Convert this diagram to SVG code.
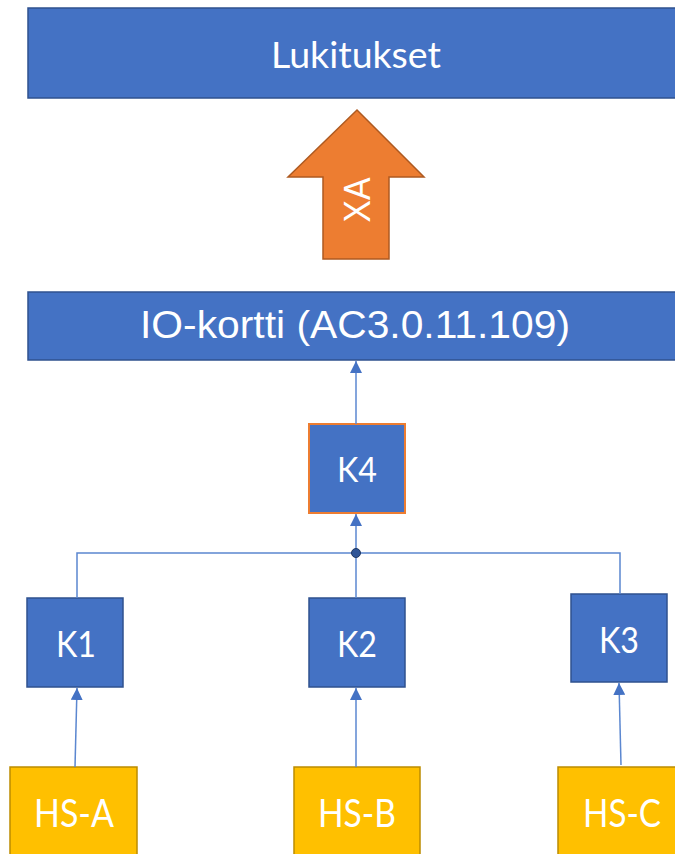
<svg xmlns="http://www.w3.org/2000/svg" width="675" height="854" viewBox="0 0 675 854">
<style>
.box{fill:#4472C4;stroke:#2F528F;stroke-width:1.5}
.hs{fill:#FFC000;stroke:#BC8C00;stroke-width:1.5}
.t{fill:#fff;font-family:Lato,"Open Sans","Liberation Sans",sans-serif;text-anchor:middle}
.a{font-family:"Liberation Sans",Arial,sans-serif}
.c{stroke:#5B87D0;stroke-width:1.5;fill:none}
</style>
<defs>
<marker id="ah" viewBox="0 0 12 12" refX="12" refY="6" markerWidth="12" markerHeight="12" markerUnits="userSpaceOnUse" orient="auto">
<path d="M0,0 L12,6 L0,12 z" fill="#4472C4"/>
</marker>
</defs>
<g id="lukitukset">
<rect class="box" x="28" y="8" width="660" height="90"/>
<text class="t" x="356" y="68" font-size="36" textLength="170" lengthAdjust="spacingAndGlyphs">Lukitukset</text>
</g>
<g id="xa">
<polygon points="357,110 424,177 389,177 389,259 323,259 323,177 288,177" fill="#ED7D31" stroke="#AE5A21" stroke-width="1.5"/>
<text class="t a" transform="translate(370,200) rotate(-90)" font-size="36" textLength="45" lengthAdjust="spacingAndGlyphs">XA</text>
</g>
<g id="io">
<rect class="box" x="28" y="292" width="660" height="68"/>
<text class="t a" x="355" y="338" font-size="38" textLength="430" lengthAdjust="spacingAndGlyphs">IO-kortti (AC3.0.11.109)</text>
</g>
<g id="k4">
<rect x="309" y="424" width="96" height="89" fill="#4472C4" stroke="#ED7D31" stroke-width="2"/>
<text class="t" x="357" y="482" font-size="35" textLength="40" lengthAdjust="spacingAndGlyphs">K4</text>
</g>
<g id="k1">
<rect class="box" x="27" y="598" width="96" height="89"/>
<text class="t" x="76" y="657" font-size="36" textLength="40" lengthAdjust="spacingAndGlyphs">K1</text>
</g>
<g id="k2">
<rect class="box" x="309" y="598" width="96" height="89"/>
<text class="t" x="357" y="657" font-size="36" textLength="40" lengthAdjust="spacingAndGlyphs">K2</text>
</g>
<g id="k3">
<rect class="box" x="571" y="594" width="96" height="88"/>
<text class="t" x="619" y="653" font-size="36" textLength="40" lengthAdjust="spacingAndGlyphs">K3</text>
</g>
<g id="hsa">
<rect class="hs" x="10" y="767" width="127" height="100"/>
<text class="t" x="74" y="827" font-size="39" textLength="80" lengthAdjust="spacingAndGlyphs">HS-A</text>
</g>
<g id="hsb">
<rect class="hs" x="294" y="767" width="126" height="100"/>
<text class="t" x="357" y="827" font-size="39" textLength="78" lengthAdjust="spacingAndGlyphs">HS-B</text>
</g>
<g id="hsc">
<rect class="hs" x="558" y="767" width="130" height="100"/>
<text class="t" x="622" y="827" font-size="39" textLength="78" lengthAdjust="spacingAndGlyphs">HS-C</text>
</g>
<g id="connectors">
<line class="c" x1="356" y1="424" x2="356" y2="361" marker-end="url(#ah)"/>
<line class="c" x1="356" y1="553" x2="356" y2="514" marker-end="url(#ah)"/>
<polyline class="c" points="77,598 77,553 620,553 620,594"/>
<line class="c" x1="356" y1="553" x2="356" y2="598"/>
<circle cx="356" cy="553" r="4.5" fill="#2F5597" stroke="#203864" stroke-width="1"/>
<line class="c" x1="75" y1="767" x2="77" y2="688" marker-end="url(#ah)"/>
<line class="c" x1="356" y1="767" x2="356" y2="688" marker-end="url(#ah)"/>
<line class="c" x1="621" y1="765" x2="619" y2="683" marker-end="url(#ah)"/>
</g>
</svg>
